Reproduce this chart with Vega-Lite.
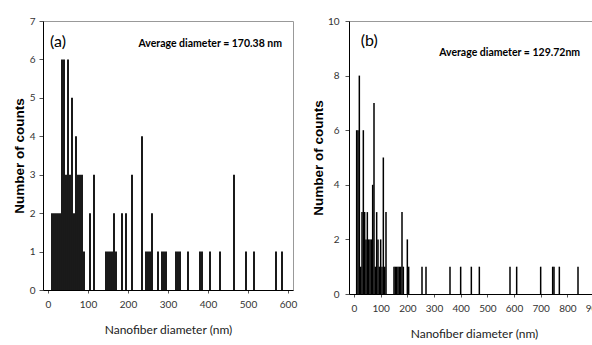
{
  "$schema": "https://vega.github.io/schema/vega-lite/v6.json",
  "padding": {"left": 11, "top": 15, "right": 0, "bottom": 0},
  "background": "white",
  "config": {
    "view": {"stroke": "#999", "strokeWidth": 1},
    "axis": {"grid": false, "domainColor": "#000", "tickColor": "#555", "labelColor": "#333", "labelFont": "Lato", "labelFontSize": 10, "titleColor": "#000", "labelOverlap": false},
    "concat": {"spacing": 12}
  },
  "datasets": {
    "a": [
      {"diameter": 10, "count": 2}, {"diameter": 15, "count": 2}, {"diameter": 20, "count": 2}, {"diameter": 25, "count": 2}, {"diameter": 30, "count": 2},
      {"diameter": 35, "count": 6}, {"diameter": 40, "count": 6}, {"diameter": 45, "count": 3}, {"diameter": 50, "count": 6}, {"diameter": 55, "count": 3},
      {"diameter": 60, "count": 5}, {"diameter": 65, "count": 2}, {"diameter": 70, "count": 4}, {"diameter": 75, "count": 3}, {"diameter": 80, "count": 3},
      {"diameter": 85, "count": 3}, {"diameter": 90, "count": 1}, {"diameter": 105, "count": 2}, {"diameter": 115, "count": 3}, {"diameter": 145, "count": 1},
      {"diameter": 150, "count": 1}, {"diameter": 155, "count": 1}, {"diameter": 160, "count": 1}, {"diameter": 165, "count": 2}, {"diameter": 170, "count": 1},
      {"diameter": 185, "count": 2}, {"diameter": 195, "count": 2}, {"diameter": 210, "count": 3}, {"diameter": 235, "count": 4}, {"diameter": 245, "count": 1},
      {"diameter": 250, "count": 1}, {"diameter": 255, "count": 1}, {"diameter": 260, "count": 2}, {"diameter": 275, "count": 1}, {"diameter": 285, "count": 1},
      {"diameter": 290, "count": 1}, {"diameter": 295, "count": 1}, {"diameter": 320, "count": 1}, {"diameter": 325, "count": 1}, {"diameter": 330, "count": 1},
      {"diameter": 350, "count": 1}, {"diameter": 380, "count": 1}, {"diameter": 385, "count": 1}, {"diameter": 405, "count": 1}, {"diameter": 430, "count": 1},
      {"diameter": 465, "count": 3}, {"diameter": 495, "count": 1}, {"diameter": 515, "count": 1}, {"diameter": 570, "count": 1}, {"diameter": 585, "count": 1}
    ],
    "b": [
      {"diameter": 10, "count": 6}, {"diameter": 15, "count": 6}, {"diameter": 20, "count": 8}, {"diameter": 25, "count": 1}, {"diameter": 30, "count": 3},
      {"diameter": 35, "count": 6}, {"diameter": 40, "count": 3}, {"diameter": 45, "count": 2}, {"diameter": 50, "count": 3}, {"diameter": 55, "count": 2},
      {"diameter": 60, "count": 2}, {"diameter": 65, "count": 2}, {"diameter": 70, "count": 4}, {"diameter": 75, "count": 7}, {"diameter": 80, "count": 1},
      {"diameter": 85, "count": 3}, {"diameter": 90, "count": 2}, {"diameter": 95, "count": 1}, {"diameter": 100, "count": 2}, {"diameter": 105, "count": 1},
      {"diameter": 110, "count": 5}, {"diameter": 115, "count": 1}, {"diameter": 120, "count": 3}, {"diameter": 150, "count": 1}, {"diameter": 155, "count": 1},
      {"diameter": 160, "count": 1}, {"diameter": 165, "count": 1}, {"diameter": 170, "count": 1}, {"diameter": 175, "count": 1}, {"diameter": 180, "count": 3},
      {"diameter": 185, "count": 1}, {"diameter": 200, "count": 2}, {"diameter": 205, "count": 1}, {"diameter": 255, "count": 1}, {"diameter": 270, "count": 1},
      {"diameter": 360, "count": 1}, {"diameter": 400, "count": 1}, {"diameter": 440, "count": 1}, {"diameter": 470, "count": 1}, {"diameter": 585, "count": 1},
      {"diameter": 610, "count": 1}, {"diameter": 700, "count": 1}, {"diameter": 745, "count": 1}, {"diameter": 750, "count": 1}, {"diameter": 770, "count": 1},
      {"diameter": 840, "count": 1}
    ]
  },
  "hconcat": [
    {
      "width": 250,
      "height": 269,
      "layer": [
        {
          "data": {"name": "a"},
          "mark": {"type": "bar", "color": "#000", "width": 1.8},
          "encoding": {
            "x": {"field": "diameter", "type": "quantitative", "scale": {"domain": [0, 600], "nice": false},
              "axis": {"values": [0, 100, 200, 300, 400, 500, 600], "format": "d", "tickCount": 20, "labelOverlap": false, "tickSize": 3, "labelPadding": 6, "title": "Nanofiber diameter (nm)", "titlePadding": 15, "titleFont": "Lato", "titleFontSize": 12, "titleFontWeight": "normal", "titleColor": "#222"}},
            "y": {"field": "count", "type": "quantitative", "scale": {"domain": [0, 7], "nice": false},
              "axis": {"values": [0, 1, 2, 3, 4, 5, 6, 7], "format": "d", "tickCount": 20, "labelOverlap": false, "tickSize": 4, "labelPadding": 4, "title": "Number of counts", "titleFont": "Liberation Sans, Arial, sans-serif", "titleFontSize": 13.5, "titleFontWeight": "bold", "titlePadding": 3}}
          }
        },
        {
          "data": {"values": [{}]},
          "mark": {"type": "text", "align": "left", "baseline": "middle", "font": "Lato", "fontSize": 16, "color": "#000"},
          "encoding": {"x": {"datum": 5}, "y": {"datum": 6.45}, "text": {"value": "(a)"}}
        },
        {
          "data": {"values": [{}]},
          "mark": {"type": "text", "align": "right", "baseline": "middle", "font": "Lato", "fontWeight": "bold", "fontSize": 10.5, "color": "#000"},
          "encoding": {"x": {"datum": 585}, "y": {"datum": 6.39}, "text": {"value": "Average diameter = 170.38 nm"}}
        }
      ]
    },
    {
      "width": 250,
      "height": 273,
      "layer": [
        {
          "data": {"name": "b"},
          "mark": {"type": "bar", "color": "#000", "width": 1.5},
          "encoding": {
            "x": {"field": "diameter", "type": "quantitative", "scale": {"domain": [0, 900], "nice": false},
              "axis": {"values": [0, 100, 200, 300, 400, 500, 600, 700, 800, 900], "format": "d", "tickCount": 20, "labelOverlap": false, "tickSize": 3, "labelPadding": 6, "title": "Nanofiber diameter (nm)", "titlePadding": 15, "titleFont": "Lato", "titleFontSize": 12, "titleFontWeight": "normal", "titleColor": "#222"}},
            "y": {"field": "count", "type": "quantitative", "scale": {"domain": [0, 10], "nice": false},
              "axis": {"values": [0, 2, 4, 6, 8, 10], "format": "d", "tickCount": 20, "labelOverlap": false, "tickSize": 4, "labelPadding": 6, "title": "Number of counts", "titleFont": "Liberation Sans, Arial, sans-serif", "titleFontSize": 13.5, "titleFontWeight": "bold", "titlePadding": 2}}
          }
        },
        {
          "data": {"values": [{}]},
          "mark": {"type": "text", "align": "left", "baseline": "middle", "font": "Lato", "fontSize": 16, "color": "#000"},
          "encoding": {"x": {"datum": 25}, "y": {"datum": 9.27}, "text": {"value": "(b)"}}
        },
        {
          "data": {"values": [{}]},
          "mark": {"type": "text", "align": "right", "baseline": "middle", "font": "Lato", "fontWeight": "bold", "fontSize": 10.5, "color": "#000"},
          "encoding": {"x": {"datum": 848}, "y": {"datum": 8.82}, "text": {"value": "Average diameter = 129.72nm"}}
        }
      ]
    }
  ]
}
